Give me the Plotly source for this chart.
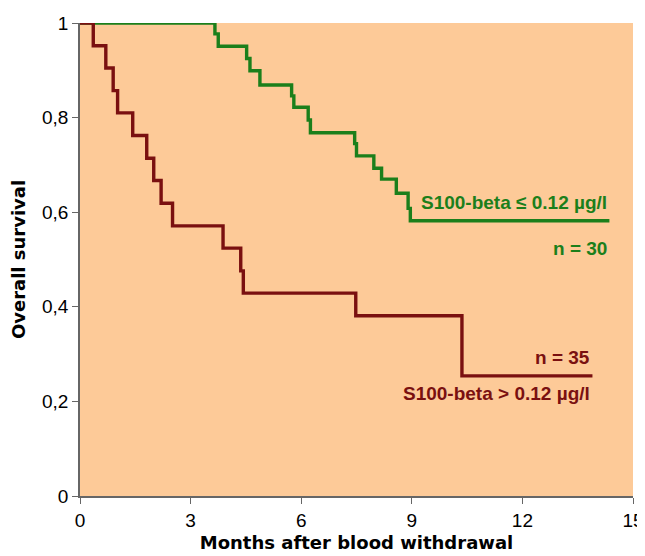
import plotly.graph_objects as go

# Kaplan-Meier data
red_months = [0, 0.36, 0.70, 0.90, 1.02, 1.43, 1.81, 2.00, 2.20, 2.51, 3.88, 4.36, 4.43, 7.48, 10.36, 13.9]
red_surv = [1, 0.952, 0.905, 0.857, 0.810, 0.762, 0.714, 0.667, 0.619, 0.571, 0.524, 0.476, 0.429, 0.381, 0.254, 0.254]

green_months = [0, 3.66, 3.75, 4.52, 4.61, 4.88, 5.74, 5.80, 6.19, 6.25, 7.45, 7.50, 7.97, 8.18, 8.58, 8.90, 8.96, 14.36]
green_surv = [1, 0.977, 0.951, 0.925, 0.899, 0.869, 0.846, 0.822, 0.795, 0.768, 0.745, 0.719, 0.693, 0.670, 0.640, 0.608, 0.582, 0.582]

x_ticks = [0, 3, 6, 9, 12, 15]
y_ticks = [0, 0.2, 0.4, 0.6, 0.8, 1]
y_tick_labels = ["0", "0,2", "0,4", "0,6", "0,8", "1"]

GREEN = "#1b7f1b"
RED = "#7a1010"
BG = "#fdca98"
AXIS = "#666666"
FONT = "Liberation Sans, Arial, sans-serif"
TITLE_FONT = "DejaVu Sans, Liberation Sans, sans-serif"

fig = go.Figure()
fig.add_trace(go.Scatter(x=green_months, y=green_surv, mode="lines", line_shape="hv",
                         line=dict(color=GREEN, width=3.4), cliponaxis=False, showlegend=False))
fig.add_trace(go.Scatter(x=red_months, y=red_surv, mode="lines", line_shape="hv",
                         line=dict(color=RED, width=3.4), cliponaxis=False, showlegend=False))

ann_font = dict(family=FONT, size=19)
fig.add_annotation(x=green_months[-1], y=green_surv[-1], text="<b>S100-beta ≤ 0.12 µg/l</b>",
                   xanchor="right", yanchor="middle", yshift=18, showarrow=False,
                   font=dict(color=GREEN, **ann_font))
fig.add_annotation(x=green_months[-1], y=green_surv[-1], text="<b>n = 30</b>",
                   xanchor="right", yanchor="middle", yshift=-28, showarrow=False,
                   font=dict(color=GREEN, **ann_font))
fig.add_annotation(x=red_months[-1], y=red_surv[-1], text="<b>n = 35</b>",
                   xanchor="right", yanchor="middle", yshift=18, showarrow=False,
                   font=dict(color=RED, **ann_font))
fig.add_annotation(x=red_months[-1], y=red_surv[-1], text="<b>S100-beta > 0.12 µg/l</b>",
                   xanchor="right", yanchor="middle", yshift=-18, showarrow=False,
                   font=dict(color=RED, **ann_font))

# page body has an 8px margin, so the figure is sized to fit the 645x556 window
fig.update_layout(
    width=637, height=548,
    margin=dict(l=72, r=12, t=15, b=60),
    paper_bgcolor="white", plot_bgcolor=BG,
    font=dict(family=FONT, size=19, color="black"),
)
fig.update_xaxes(range=[0, 15], tickvals=x_ticks, ticks="outside", ticklen=6, tickcolor=AXIS,
                 showline=True, linecolor=AXIS, linewidth=1.5, showgrid=False, zeroline=False,
                 automargin=False,
                 title=dict(text="<b>Months after blood withdrawal</b>", standoff=7,
                            font=dict(family=TITLE_FONT, size=18)),
                 tickfont=dict(size=19))
fig.update_yaxes(range=[0, 1], tickvals=y_ticks, ticktext=y_tick_labels, ticks="outside", ticklen=6,
                 tickcolor=AXIS, showline=True, linecolor=AXIS, linewidth=1.5, showgrid=False,
                 zeroline=False, automargin=False,
                 title=dict(text="<b>Overall survival</b>", standoff=12,
                            font=dict(family=TITLE_FONT, size=18)),
                 tickfont=dict(size=19))

fig.write_html("out.html")
